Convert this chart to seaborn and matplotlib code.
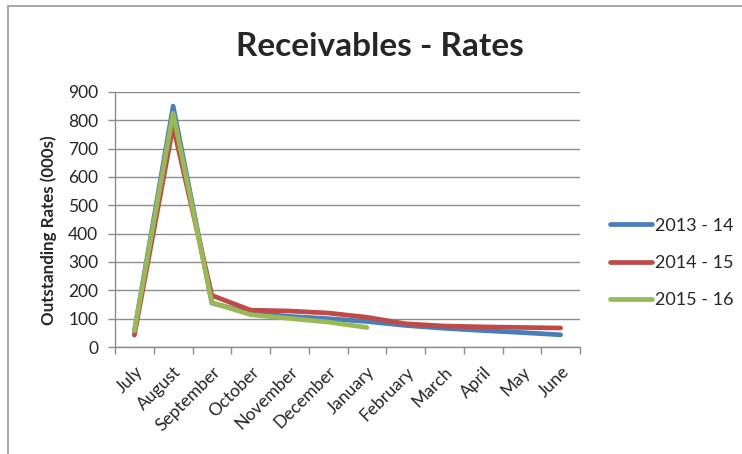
import matplotlib
matplotlib.use("Agg")
import matplotlib.pyplot as plt
from matplotlib.patches import Rectangle
import pandas as pd
import seaborn as sns

months = ["July", "August", "September", "October", "November", "December",
          "January", "February", "March", "April", "May", "June"]
rates_2013_14 = [55, 850, 155, 120, 108, 100, 90, 76, 66, 58, 51, 43]
rates_2014_15 = [42, 780, 182, 130, 127, 120, 105, 82, 74, 71, 69, 67]
rates_2015_16 = [57, 825, 157, 114, 101, 88, 69]
series_names = ["2013 - 14", "2014 - 15", "2015 - 16"]
y_ticks = [0, 100, 200, 300, 400, 500, 600, 700, 800, 900]

rows = []
for name, vals in zip(series_names, [rates_2013_14, rates_2014_15, rates_2015_16]):
    for m, v in zip(months, vals):
        rows.append({"Month": m, "Rates": v, "Year": name})
df = pd.DataFrame(rows)

sns.set_theme(style="white")
plt.rcParams["font.family"] = ["Lato", "DejaVu Sans"]

palette = {"2013 - 14": "#4A7EBB", "2014 - 15": "#BE4B48", "2015 - 16": "#98B954"}

fig = plt.figure(figsize=(7.42, 4.54), dpi=100)
ax = fig.add_axes([115 / 742, 1 - 347 / 454, 465 / 742, 255 / 454])

sns.lineplot(data=df, x="Month", y="Rates", hue="Year", palette=palette,
             linewidth=3.4, ax=ax, sort=False, legend=True)

ax.set_xlim(-0.5, 11.5)
ax.set_ylim(0, 900)
ax.set_yticks(y_ticks)
ax.set_yticklabels([str(t) for t in y_ticks], fontsize=12.5)
ax.yaxis.grid(True, color="#8C8C8C", linewidth=1)
ax.set_axisbelow(True)

ax.set_xticks(range(len(months)))
ax.set_xticklabels(months, rotation=45, ha="right", rotation_mode="anchor", fontsize=12.5)
ax.tick_params(axis="x", which="major", length=0, pad=12)
ax.set_xticks([i - 0.5 for i in range(len(months) + 1)], minor=True)
ax.tick_params(axis="x", which="minor", length=5, width=1, color="#8C8C8C", direction="out", bottom=True)
ax.tick_params(axis="y", length=5, width=1, color="#8C8C8C", direction="out", left=True, pad=7)

for side in ["top", "right"]:
    ax.spines[side].set_visible(False)
for side in ["left", "bottom"]:
    ax.spines[side].set_color("#8C8C8C")
    ax.spines[side].set_linewidth(1)

ax.set_xlabel("")
ax.set_ylabel("Outstanding Rates (000s)", fontsize=12.2, fontweight="bold")
ax.yaxis.set_label_coords(-0.124, 0.46)

handles, labels = ax.get_legend_handles_labels()
leg = ax.legend(handles, labels, loc="center left", bbox_to_anchor=(1.03, 0.33),
                frameon=False, fontsize=13, handlelength=2.33, handletextpad=0.15,
                labelspacing=1.17)
for line in leg.get_lines():
    line.set_linewidth(3.4)

fig.text(380 / 742, 1 - 46 / 454, "Receivables - Rates", ha="center", va="center",
         fontsize=24, fontweight="bold")

fig.patches.append(Rectangle((8 / 742, -0.1), 1.2, 1 - 6 / 454 + 0.1,
                             transform=fig.transFigure, fill=False,
                             edgecolor="#9A9A9A", linewidth=1.2))

fig.savefig("out.png", dpi=100)
